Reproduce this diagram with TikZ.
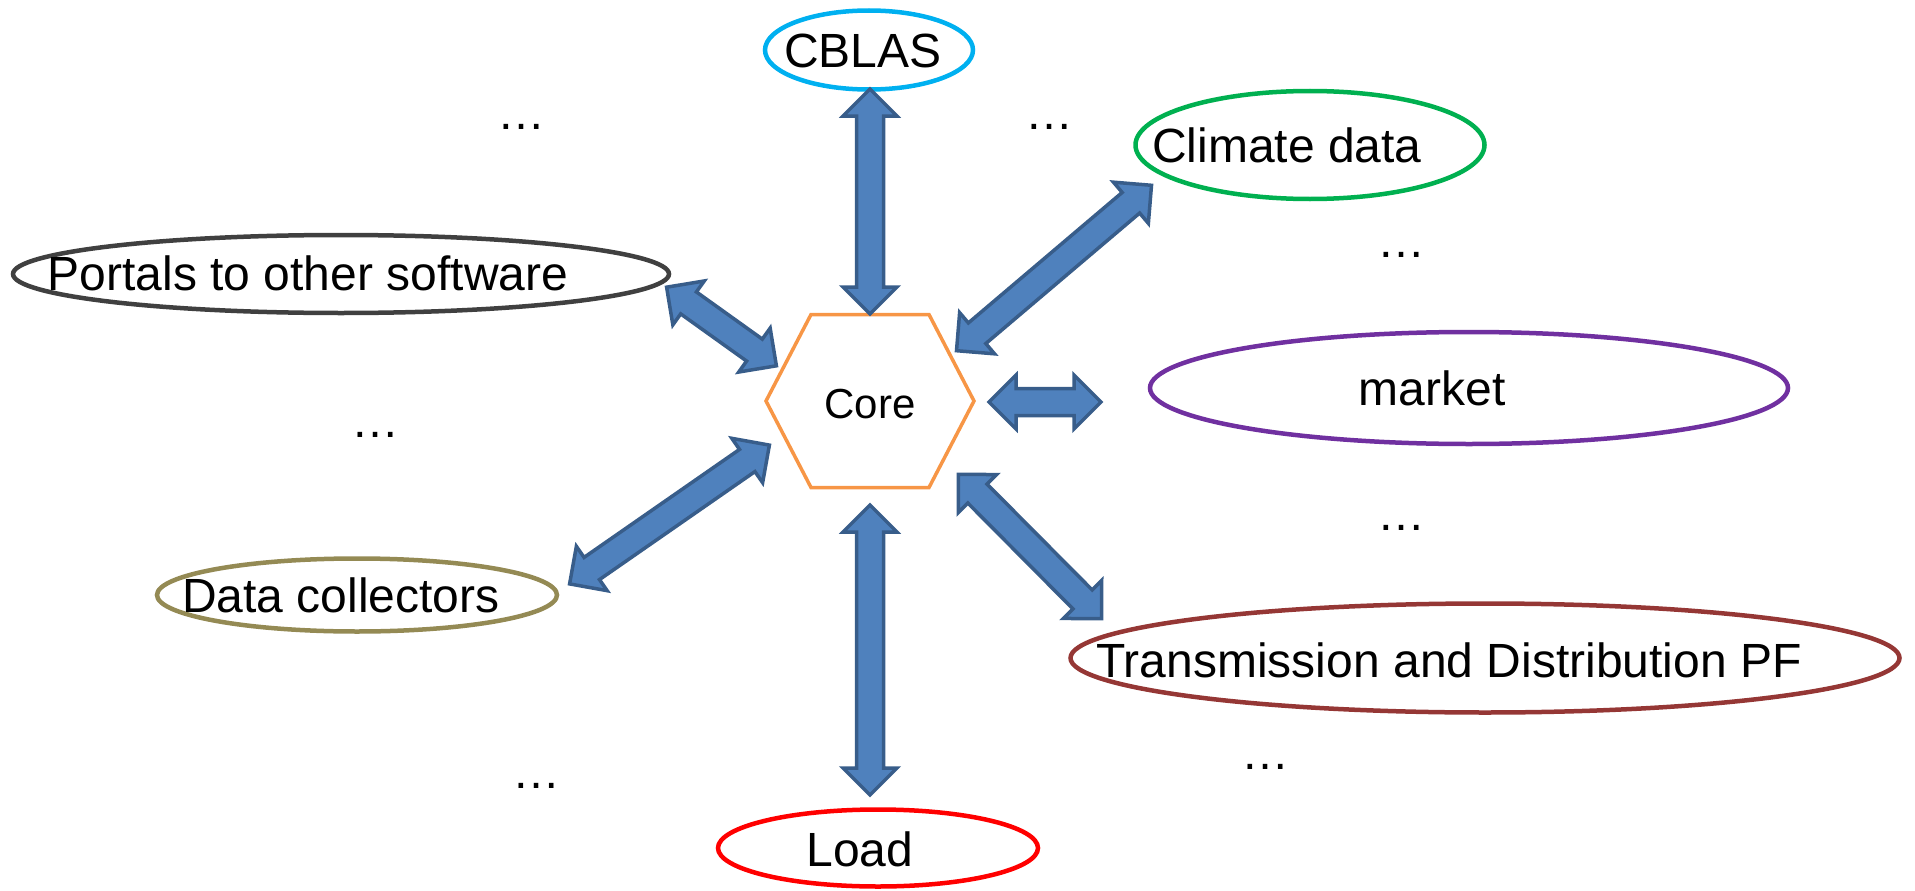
\documentclass[tikz,border=0pt]{standalone}
\usepackage{fontspec}
\setmainfont{Liberation Sans}
\usetikzlibrary{calc,shapes.geometric}
\definecolor{arrowfill}{HTML}{4F81BD}
\definecolor{arrowline}{HTML}{385D8A}
\definecolor{hexline}{HTML}{F79646}
\definecolor{cblascol}{HTML}{00B0F0}
\definecolor{climatecol}{HTML}{00B050}
\definecolor{portalcol}{HTML}{404040}
\definecolor{marketcol}{HTML}{7030A0}
\definecolor{datacol}{HTML}{948A54}
\definecolor{transcol}{HTML}{953735}
\definecolor{loadcol}{HTML}{FF0000}
\tikzset{
  lbl/.style={font=\fontsize{48}{56}\selectfont, inner sep=0pt, anchor=base},
  dots/.style={font=\fontsize{48}{56}\selectfont, inner sep=0pt, anchor=base},
  oval/.style={ellipse, draw=#1, line width=4.5pt, inner sep=0pt},
  blockarrow/.style={fill=arrowfill, draw=arrowline, line width=3.5pt, line join=miter},
  hexstyle/.style={draw=hexline, line width=3.5pt, line join=miter}
}
\newcommand{\dblarrow}[2]{%
  \draw[blockarrow] (#1)
    -- ($(#1)!27pt!(#2)!27pt!90:(#2)$)
    -- ($(#1)!27pt!(#2)!13.5pt!90:(#2)$)
    -- ($(#2)!27pt!(#1)!13.5pt!-90:(#1)$)
    -- ($(#2)!27pt!(#1)!27pt!-90:(#1)$)
    -- (#2)
    -- ($(#2)!27pt!(#1)!27pt!90:(#1)$)
    -- ($(#2)!27pt!(#1)!13.5pt!90:(#1)$)
    -- ($(#1)!27pt!(#2)!13.5pt!-90:(#2)$)
    -- ($(#1)!27pt!(#2)!27pt!-90:(#2)$)
    -- cycle;}
\begin{document}
\begin{tikzpicture}[x=1pt,y=-1pt]
\useasboundingbox (0,0) rectangle (1915,891);

% ellipses
\node[oval=cblascol, minimum width=208pt, minimum height=79pt] (cblas) at (869,50) {};
\node[oval=climatecol, minimum width=349pt, minimum height=108pt] (climate) at (1310,145) {};
\node[oval=portalcol, minimum width=656pt, minimum height=78pt] (portals) at (341,274) {};
\node[oval=marketcol, minimum width=638pt, minimum height=112pt] (market) at (1469,388) {};
\node[oval=datacol, minimum width=400pt, minimum height=73pt] (datacoll) at (357,595) {};
\node[oval=transcol, minimum width=829pt, minimum height=109pt] (trans) at (1485,658) {};
\node[oval=loadcol, minimum width=320pt, minimum height=77pt] (load) at (878,848) {};

% labels
\node[lbl] (cblast) at (863,67) {CBLAS};
\node[lbl] (climatet) at (1287,162) {Climate data};
\node[lbl] (portalst) at (308,290) {Portals to other software};
\node[lbl] (marketet) at (1432,405) {market};
\node[lbl] (datacollt) at (341,612) {Data collectors};
\node[lbl] (transt) at (1449,677) {Transmission and Distribution PF};
\node[lbl] (loadt) at (860,866) {Load};

% core hexagon
\node[inner sep=0pt, minimum width=208pt, minimum height=173pt] (core) at (870,401) {};
\draw[hexstyle] ([shift={(-104,0)}]core.center) -- ([shift={(-59,-86.5)}]core.center)
  -- ([shift={(59,-86.5)}]core.center) -- ([shift={(104,0)}]core.center)
  -- ([shift={(59,86.5)}]core.center) -- ([shift={(-59,86.5)}]core.center) -- cycle;
\node[font=\fontsize{42}{50}\selectfont, inner sep=0pt, anchor=base] (coret) at (870,418) {Core};

% ellipsis marks
\node[dots] (d1) at (521,129) {…};
\node[dots] (d2) at (1049,129) {…};
\node[dots] (d3) at (1401,257) {…};
\node[dots] (d4) at (375,437) {…};
\node[dots] (d5) at (1401,530) {…};
\node[dots] (d6) at (536,788) {…};
\node[dots] (d7) at (1265,769) {…};

% arrow endpoints
\coordinate (a1s) at (870,314);   \coordinate (a1e) at (870,89);
\coordinate (a2s) at (956.5,350.7); \coordinate (a2e) at (1151.5,185.3);
\coordinate (a3s) at (776.4,365.8); \coordinate (a3e) at (666.6,287.2);
\coordinate (a4s) at (989,402);   \coordinate (a4e) at (1101,402);
\coordinate (a5s) at (958.4,474.4); \coordinate (a5e) at (1101.6,618.6);
\coordinate (a6s) at (870,505);   \coordinate (a6e) at (870,795);
\coordinate (a7s) at (769.4,445.1); \coordinate (a7e) at (569.6,583.9);

\dblarrow{a1s}{a1e}
\dblarrow{a2s}{a2e}
\dblarrow{a3s}{a3e}
\dblarrow{a4s}{a4e}
\dblarrow{a5s}{a5e}
\dblarrow{a6s}{a6e}
\dblarrow{a7s}{a7e}
\end{tikzpicture}
\end{document}
